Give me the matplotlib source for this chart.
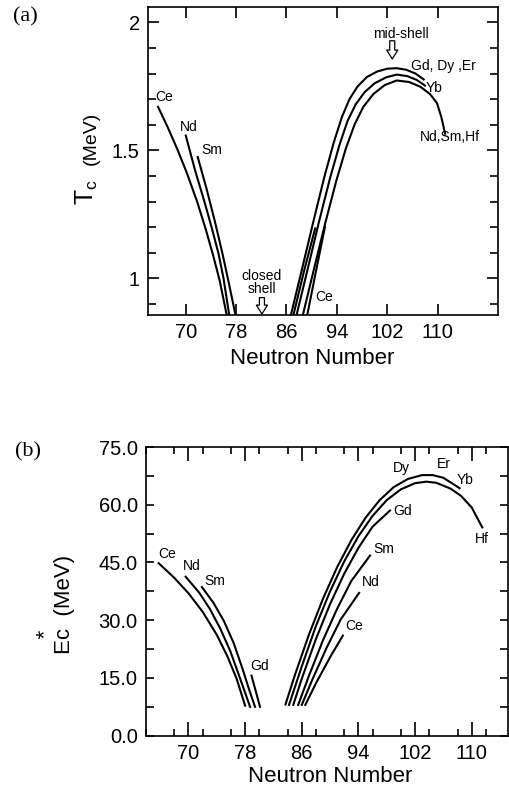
import matplotlib
matplotlib.use("Agg")
import matplotlib.pyplot as plt
from matplotlib.ticker import MultipleLocator, FixedLocator

plt.rcParams['font.family'] = ['Liberation Sans', 'DejaVu Sans']
plt.rcParams['mathtext.default'] = 'regular'

# ---------- panel (a): T_C vs neutron number ----------
a_ce_x = [65.6, 67.1, 68.6, 70.2, 71.8, 73.2, 74.4, 75.4, 76.5]
a_ce_y = [1.67, 1.592, 1.508, 1.41, 1.30, 1.19, 1.085, 0.99, 0.857]
a_nd_x = [70.0, 71.5, 72.9, 74.1, 75.2, 76.0, 76.9]
a_nd_y = [1.558, 1.42, 1.305, 1.20, 1.097, 1.0, 0.857]
a_sm_x = [71.9, 73.3, 74.6, 75.8, 76.9, 77.9]
a_sm_y = [1.474, 1.35, 1.225, 1.10, 0.975, 0.857]

# right branch: outer (Gd,Dy,Er), middle (Yb), inner (Nd,Sm,Hf)
a_r1_x = [86.7, 88.5, 90.3, 92.0, 93.5, 94.8, 96.0, 97.3, 98.8, 100.4, 102.0, 103.5, 105.0, 106.5, 107.8]
a_r1_y = [0.857, 1.04, 1.225, 1.395, 1.53, 1.63, 1.70, 1.75, 1.787, 1.808, 1.819, 1.821, 1.815, 1.80, 1.777]
a_r2_x = [87.6, 89.4, 91.2, 92.9, 94.4, 95.7, 97.0, 98.4, 100.0, 101.8, 103.5, 105.2, 106.7, 108.0]
a_r2_y = [0.857, 1.04, 1.225, 1.39, 1.52, 1.615, 1.68, 1.727, 1.762, 1.785, 1.796, 1.79, 1.775, 1.753]
a_r3_x = [88.6, 90.4, 92.2, 93.9, 95.4, 96.8, 98.2, 99.8, 101.6, 103.5, 105.5, 107.3, 108.8, 109.9, 110.6, 111.2]
a_r3_y = [0.857, 1.04, 1.22, 1.38, 1.505, 1.60, 1.67, 1.72, 1.755, 1.773, 1.767, 1.748, 1.72, 1.685, 1.63, 1.565]
# short Ce pieces
a_s1_x = [87.1, 88.8, 90.55]
a_s1_y = [0.857, 1.03, 1.195]
a_s2_x = [89.3, 90.7, 92.1]
a_s2_y = [0.857, 1.03, 1.2]

a_labels = [("Ce", 65.1, 1.71), ("Nd", 69.1, 1.59), ("Sm", 72.4, 1.50),
            ("Gd, Dy ,Er", 105.8, 1.831), ("Yb", 108.1, 1.742),
            ("Nd,Sm,Hf", 107.2, 1.552), ("Ce", 90.55, 0.928)]

# ---------- panel (b): E*_c vs neutron number ----------
b_ce_x = [65.8, 68.0, 70.0, 72.0, 74.0, 75.5, 76.8, 78.0]
b_ce_y = [44.8, 41.0, 37.0, 32.2, 26.2, 20.6, 14.8, 7.8]
b_nd_x = [69.6, 71.5, 73.0, 74.5, 75.9, 77.3, 78.7]
b_nd_y = [41.3, 37.2, 33.0, 27.8, 22.0, 14.8, 7.5]
b_sm_x = [71.9, 73.5, 75.0, 76.4, 77.7, 78.6, 79.4]
b_sm_y = [38.6, 34.6, 29.8, 24.0, 17.0, 11.8, 7.5]
b_gdl_x = [78.9, 79.5, 80.1]
b_gdl_y = [15.6, 11.6, 7.5]

b_dy_x = [83.7, 85.0, 87.0, 89.0, 91.0, 93.0, 95.0, 97.0, 99.0, 101.0, 103.0, 104.5, 106.0, 108.3]
b_dy_y = [8.1, 15.6, 26.2, 35.6, 43.8, 50.8, 56.6, 61.2, 64.6, 66.7, 67.7, 67.7, 67.0, 64.3]
b_hf_x = [84.2, 86.0, 88.0, 90.0, 92.0, 94.0, 96.0, 98.0, 100.0, 102.0, 103.6, 105.0, 107.0, 108.5, 110.0, 111.5]
b_hf_y = [8.0, 18.0, 28.5, 37.5, 45.3, 51.8, 57.1, 61.2, 64.0, 65.6, 66.0, 65.7, 64.2, 62.3, 59.3, 54.1]
b_gd_x = [84.8, 86.0, 88.0, 90.0, 92.0, 94.0, 96.0, 98.46]
b_gd_y = [8.0, 14.8, 25.1, 34.2, 42.1, 48.8, 54.3, 58.5]
b_sm2_x = [85.5, 87.0, 89.0, 91.0, 93.0, 95.64]
b_sm2_y = [8.0, 15.5, 24.8, 33.0, 40.2, 46.8]
b_nd2_x = [86.0, 87.5, 89.5, 91.5, 94.1]
b_nd2_y = [8.0, 14.6, 22.8, 30.2, 37.1]
b_ce2_x = [86.5, 88.0, 90.0, 91.8]
b_ce2_y = [8.0, 13.6, 20.4, 26.0]

b_labels = [("Ce", 65.7, 47.2), ("Nd", 69.2, 44.2), ("Sm", 72.3, 40.3), ("Gd", 78.7, 18.2),
            ("Ce", 92.1, 28.6), ("Nd", 94.5, 39.9), ("Sm", 96.1, 48.5), ("Gd", 98.9, 58.3),
            ("Dy", 98.9, 69.5), ("Er", 105.1, 70.6), ("Yb", 107.9, 66.4), ("Hf", 110.5, 51.1)]

xticks_major = [70, 78, 86, 94, 102, 110]
xtick_labels = ["70", "78", "86", "94", "102", "110"]

fig = plt.figure(figsize=(5.09, 7.88), dpi=100)
lw = 1.5
arrow_style = 'simple,head_length=0.8,head_width=1.0,tail_width=0.45'

# ---- (a)
ax1 = fig.add_axes([148/509, 1-315/788, 350/509, 308/788])
for xs, ys in [(a_ce_x, a_ce_y), (a_nd_x, a_nd_y), (a_sm_x, a_sm_y),
               (a_r1_x, a_r1_y), (a_r2_x, a_r2_y), (a_r3_x, a_r3_y),
               (a_s1_x, a_s1_y), (a_s2_x, a_s2_y)]:
    ax1.plot(xs, ys, color='black', lw=lw)
ax1.set_xlim(64, 119.6)
ax1.set_ylim(0.857, 2.06)
ax1.xaxis.set_major_locator(FixedLocator(xticks_major))
ax1.set_xticklabels(xtick_labels)
ax1.set_yticks([1, 1.5, 2])
ax1.set_yticklabels(["1", "1.5", "2"])
ax1.yaxis.set_minor_locator(MultipleLocator(0.1))
ax1.tick_params(which='both', direction='in', top=True, right=True, width=1.2, labelsize=14.5, pad=6)
ax1.tick_params(which='major', length=8)
ax1.tick_params(which='minor', length=6)
for s in ax1.spines.values():
    s.set_linewidth(1.2)
for t, x, y in a_labels:
    ax1.text(x, y, t, fontsize=10, ha='left', va='center')
ax1.text(82.1, 0.985, "closed\nshell", fontsize=10, ha='center', va='center', linespacing=0.95)
ax1.annotate("", xy=(82.1, 0.861), xytext=(82.1, 0.925),
             arrowprops=dict(arrowstyle=arrow_style, fc='white', ec='black', lw=0.9,
                             mutation_scale=8, shrinkA=0, shrinkB=0))
ax1.text(104.1, 1.956, "mid-shell", fontsize=10, ha='center', va='center')
ax1.annotate("", xy=(102.8, 1.857), xytext=(102.8, 1.928),
             arrowprops=dict(arrowstyle=arrow_style, fc='white', ec='black', lw=0.9,
                             mutation_scale=8, shrinkA=0, shrinkB=0))
fig.text(312/509, 1-358/788, "Neutron Number", fontsize=16, ha='center', va='center')
fig.text(87/509, 1-192/788, "T$_c$", fontsize=18, rotation=90, ha='center', va='center')
fig.text(91/509, 1-138/788, "(MeV)", fontsize=14, rotation=90, ha='center', va='center')
fig.text(25/509, 1-17/788, "(a)", fontsize=16, family='Liberation Serif', ha='center', va='center')

# ---- (b)
ax2 = fig.add_axes([146/509, 1-735.7/788, 362.5/509, 288.7/788])
for xs, ys in [(b_ce_x, b_ce_y), (b_nd_x, b_nd_y), (b_sm_x, b_sm_y), (b_gdl_x, b_gdl_y),
               (b_dy_x, b_dy_y), (b_hf_x, b_hf_y), (b_gd_x, b_gd_y),
               (b_sm2_x, b_sm2_y), (b_nd2_x, b_nd2_y), (b_ce2_x, b_ce2_y)]:
    ax2.plot(xs, ys, color='black', lw=lw)
ax2.set_xlim(64, 115.2)
ax2.set_ylim(0, 75)
ax2.xaxis.set_major_locator(FixedLocator(xticks_major))
ax2.set_xticklabels(xtick_labels)
ax2.xaxis.set_minor_locator(MultipleLocator(4))
ax2.set_yticks([0, 15, 30, 45, 60, 75])
ax2.set_yticklabels(["0.0", "15.0", "30.0", "45.0", "60.0", "75.0"])
ax2.yaxis.set_minor_locator(MultipleLocator(7.5))
ax2.tick_params(which='both', direction='in', top=True, right=True, width=1.2, labelsize=14.5, pad=6)
ax2.tick_params(axis='x', which='major', length=10)
ax2.tick_params(axis='x', which='minor', length=5)
ax2.tick_params(axis='y', which='both', length=6)
for s in ax2.spines.values():
    s.set_linewidth(1.2)
for t, x, y in b_labels:
    ax2.text(x, y, t, fontsize=10, ha='left', va='center')
fig.text(330/509, 1-777/788, "Neutron Number", fontsize=16, ha='center', va='center')
# asterisk stacked over the "c" as a second (upper) line of the rotated label
fig.text(74.7/509, 1-604/788, "\u2002\u2009*\nEc  (MeV)", fontsize=16, rotation=90,
         ha='right', va='center', multialignment='left', linespacing=0.78)
fig.text(28/509, 1-452/788, "(b)", fontsize=16, family='Liberation Serif', ha='center', va='center')

fig.savefig("out.png", dpi=100)
